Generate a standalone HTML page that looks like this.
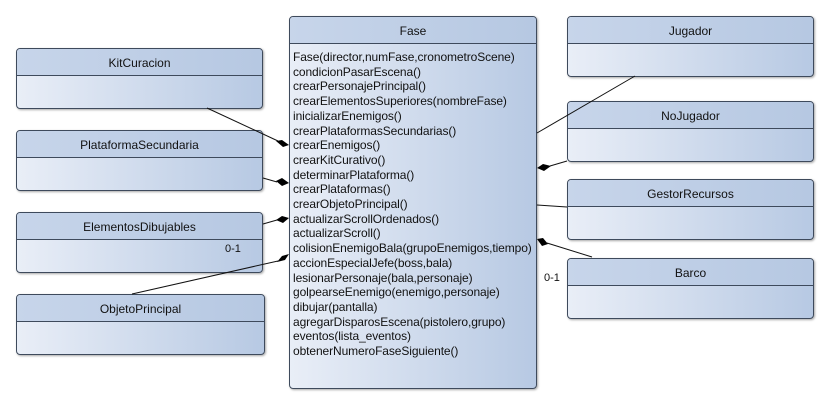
<!DOCTYPE html>
<html><head><style>
body{margin:0;width:830px;height:404px;background:#fff;position:relative;overflow:hidden;font-family:"Liberation Sans",sans-serif;}
.b{position:absolute;border:1px solid #3e4a5c;border-radius:4px;box-sizing:border-box;background:linear-gradient(90deg,#e9eef7,#b7c9e3);box-shadow:1px 1px 2px rgba(0,0,0,.35);overflow:hidden;}
.h{height:26px;border-bottom:1px solid #3e4a5c;background:linear-gradient(90deg,#c7d5ea,#b6c8e2);text-align:center;font-size:12px;line-height:28px;color:#111;}
.m{position:absolute;font-size:11px;color:#111;}
.l{font-size:12px;line-height:14.7px;padding:6px 0 0 3px;color:#111;letter-spacing:-0.1px;white-space:nowrap;}
svg{position:absolute;left:0;top:0;}
</style></head><body>
<div class="b" style="left:16px;top:48px;width:247px;height:61px"><div class="h">KitCuracion</div></div>
<div class="b" style="left:16px;top:130px;width:247px;height:61px"><div class="h">PlataformaSecundaria</div></div>
<div class="b" style="left:16px;top:212px;width:247px;height:61px"><div class="h">ElementosDibujables</div></div>
<div class="b" style="left:16px;top:294px;width:249px;height:61px"><div class="h">ObjetoPrincipal</div></div>
<div class="b" style="left:567px;top:16px;width:247px;height:61px"><div class="h">Jugador</div></div>
<div class="b" style="left:567px;top:101px;width:247px;height:61px"><div class="h">NoJugador</div></div>
<div class="b" style="left:567px;top:179px;width:247px;height:61px"><div class="h">GestorRecursos</div></div>
<div class="b" style="left:567px;top:258px;width:247px;height:61px"><div class="h">Barco</div></div>
<div class="b" style="left:289px;top:16px;width:248px;height:373px"><div class="h">Fase</div>
<div class="l">Fase(director,numFase,cronometroScene)<br>condicionPasarEscena()<br>crearPersonajePrincipal()<br>crearElementosSuperiores(nombreFase)<br>inicializarEnemigos()<br>crearPlataformasSecundarias()<br>crearEnemigos()<br>crearKitCurativo()<br>determinarPlataforma()<br>crearPlataformas()<br>crearObjetoPrincipal()<br>actualizarScrollOrdenados()<br>actualizarScroll()<br>colisionEnemigoBala(grupoEnemigos,tiempo)<br>accionEspecialJefe(boss,bala)<br>lesionarPersonaje(bala,personaje)<br>golpearseEnemigo(enemigo,personaje)<br>dibujar(pantalla)<br>agregarDisparosEscena(pistolero,grupo)<br>eventos(lista_eventos)<br>obtenerNumeroFaseSiguiente()</div></div>
<div class="m" style="left:225px;top:243px">0-1</div>
<div class="m" style="left:544px;top:272px">0-1</div>
<svg width="830" height="404">
<g stroke="#111" stroke-width="1" fill="none">
<line x1="207" y1="108" x2="278" y2="141"/>
<line x1="263" y1="178" x2="277" y2="182"/>
<line x1="263" y1="224" x2="277" y2="220"/>
<line x1="132" y1="294" x2="278" y2="261"/>
<line x1="635" y1="76" x2="537" y2="133"/>
<line x1="567" y1="161" x2="550" y2="166"/>
<line x1="537" y1="205" x2="567" y2="207"/>
<line x1="592" y1="257" x2="547" y2="243"/>
</g>
<g fill="#000">
<polygon points="276,141 282,140 289,145 283,147"/>
<polygon points="276,181 282,178 289,183 282,186"/>
<polygon points="276,220 282,216 289,218 283,223"/>
<polygon points="277,262 282,256 289,254 285,260"/>
<polygon points="537,168 543,164 551,166 544,171"/>
<polygon points="537,239 543,238 548,244 542,246"/>
</g>
</svg>
</body></html>
